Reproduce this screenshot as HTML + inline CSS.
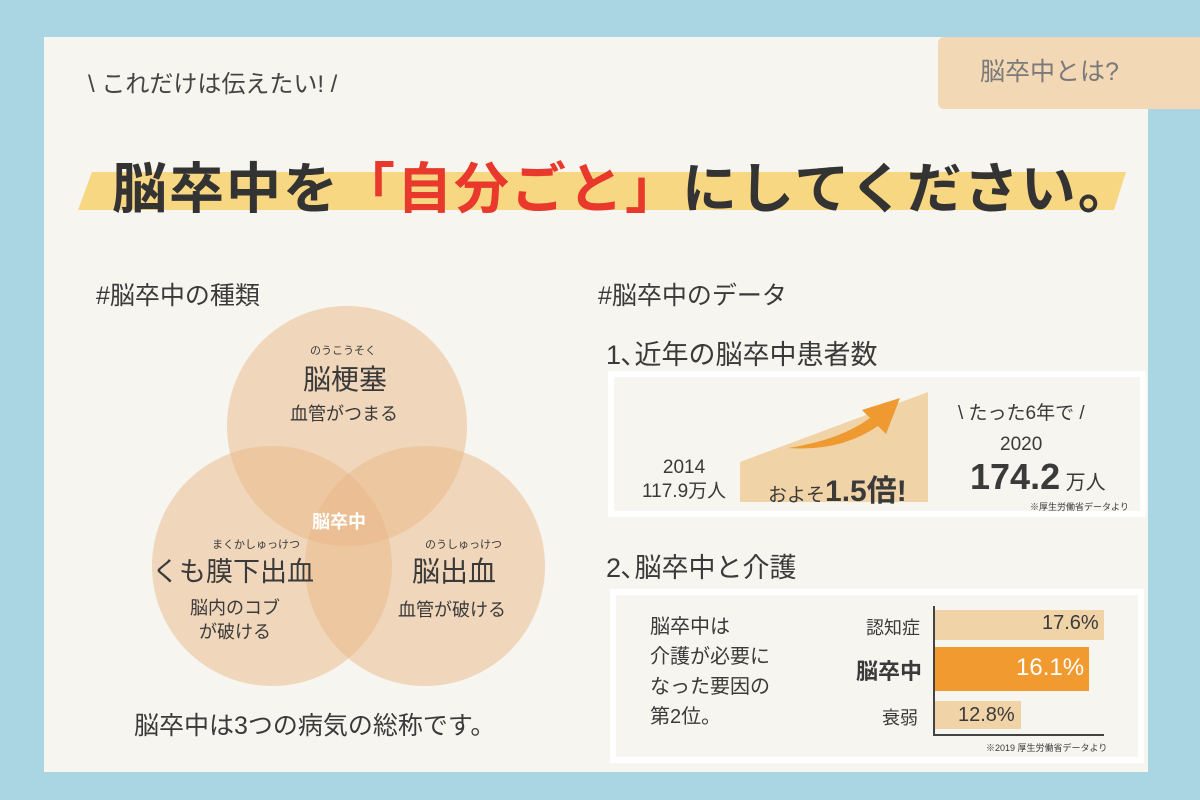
<!DOCTYPE html>
<html><head><meta charset="utf-8"><style>
body{margin:0;width:1200px;height:800px;background:#a9d6e2;position:relative;overflow:hidden;font-family:"Liberation Sans","Noto Sans CJK JP",sans-serif;color:#3a3a3a}
.a{position:absolute;white-space:nowrap}
</style></head><body>
<div class="a" style="left:44px;top:37px;width:1104px;height:735px;background:#f7f5ef"></div>
<div class="a" style="left:938px;top:37px;width:262px;height:72px;background:#f2d8b4;border-radius:6px 0 0 6px"></div>
<div class="a" style="left:980px;top:52px;font-size:25px;color:#7a7a7a">脳卒中とは?</div>
<div class="a" style="left:88px;top:64px;font-size:24px;color:#444">\ これだけは伝えたい! /</div>
<svg class="a" style="left:0;top:0" width="1200" height="800">
<polygon points="92,172 1126,172 1114,210 78,210" fill="#f8d783"/>
<g fill="#eab785" fill-opacity="0.5">
<circle cx="347" cy="426" r="120"/><circle cx="272" cy="566" r="120"/><circle cx="425" cy="566" r="120"/>
</g>
<rect x="608" y="371" width="538" height="146" fill="#fff"/>
<rect x="614" y="377" width="526" height="134" fill="#f7f5ef"/>
<polygon points="740,502 928,502 928,392 740,462" fill="#f1d3a8"/>
<path d="M788,448 Q840,440 870,418 L862,410 L900,398 L886,434 L878,426 Q840,452 788,448Z" fill="#ee9a30"/>
<rect x="610" y="589" width="534" height="174" fill="#fff"/>
<rect x="616" y="595" width="522" height="162" fill="#f7f5ef"/>
<rect x="934" y="610" width="170" height="30" fill="#f1d3a8"/>
<rect x="934" y="647" width="155" height="44" fill="#f09a30"/>
<rect x="934" y="701" width="87" height="28" fill="#f1d3a8"/>
<polyline points="934,606 934,735 1104,735" fill="none" stroke="#444" stroke-width="2"/>
</svg>
<div class="a" style="left:112px;top:144px;font-size:55px;font-weight:bold;color:#333;letter-spacing:2px">脳卒中を<span style="color:#e8392c">「自分ごと」</span>にしてください。</div>
<div class="a" style="left:96px;top:276px;font-size:25px">#脳卒中の種類</div>
<div class="a" style="left:598px;top:276px;font-size:25px">#脳卒中のデータ</div>
<div class="a" style="left:606px;top:333px;font-size:27px">1､近年の脳卒中患者数</div>
<div class="a" style="left:606px;top:546px;font-size:27px">2､脳卒中と介護</div>
<div class="a" style="left:310px;top:342px;font-size:11px">のうこうそく</div>
<div class="a" style="left:303px;top:358px;font-size:28px">脳梗塞</div>
<div class="a" style="left:290px;top:400px;font-size:18px">血管がつまる</div>
<div class="a" style="left:312px;top:508px;font-size:18px;color:#fff;font-weight:bold">脳卒中</div>
<div class="a" style="left:212px;top:536px;font-size:11px">まくかしゅっけつ</div>
<div class="a" style="left:152px;top:550px;font-size:27px">くも膜下出血</div>
<div class="a" style="left:190px;top:596px;font-size:18px;text-align:center;line-height:24px">脳内のコブ<br>が破ける</div>
<div class="a" style="left:425px;top:536px;font-size:11px">のうしゅっけつ</div>
<div class="a" style="left:412px;top:550px;font-size:28px">脳出血</div>
<div class="a" style="left:398px;top:596px;font-size:18px">血管が破ける</div>
<div class="a" style="left:134px;top:706px;font-size:25px">脳卒中は3つの病気の総称です。</div>
<div class="a" style="left:642px;top:456px;font-size:19px;text-align:center;line-height:24px">2014<br>117.9万人</div>
<div class="a" style="left:768px;top:466px;font-size:19px">およそ<b style="font-size:30px">1.5倍!</b></div>
<div class="a" style="left:958px;top:398px;font-size:19px">\ たった6年で /</div>
<div class="a" style="left:1000px;top:434px;font-size:19px">2020</div>
<div class="a" style="left:970px;top:456px;font-size:36px;font-weight:bold">174.2<span style="font-size:20px;font-weight:normal"> 万人</span></div>
<div class="a" style="left:1030px;top:500px;font-size:9px">※厚生労働省データより</div>
<div class="a" style="left:650px;top:612px;font-size:20px;line-height:30px">脳卒中は<br>介護が必要に<br>なった要因の<br>第2位。</div>
<div class="a" style="left:866px;top:614px;font-size:18px">認知症</div>
<div class="a" style="left:856px;top:654px;font-size:22px;font-weight:bold">脳卒中</div>
<div class="a" style="left:882px;top:704px;font-size:18px">衰弱</div>
<div class="a" style="left:1042px;top:612px;font-size:20px">17.6%</div>
<div class="a" style="left:1016px;top:654px;font-size:24px;color:#fff">16.1%</div>
<div class="a" style="left:958px;top:704px;font-size:20px">12.8%</div>
<div class="a" style="left:986px;top:741px;font-size:9px">※2019 厚生労働省データより</div>
</body></html>
